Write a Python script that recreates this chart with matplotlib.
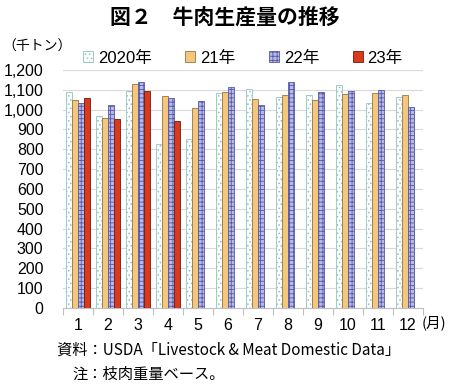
import numpy as np
import matplotlib
matplotlib.use("Agg")
import matplotlib.pyplot as plt
from matplotlib.ticker import FixedLocator, FuncFormatter

# ── data ──────────────────────────────────────────────────────────────────────
months = [1, 2, 3, 4, 5, 6, 7, 8, 9, 10, 11, 12]
prod_2020 = [1087, 970, 1096, 827, 851, 1083, 1103, 1062, 1072, 1126, 1032, 1061]
prod_2021 = [1049, 960, 1130, 1069, 1007, 1091, 1054, 1072, 1047, 1076, 1083, 1074]
prod_2022 = [1032, 1024, 1140, 1057, 1041, 1116, 1024, 1140, 1088, 1093, 1101, 1014]
prod_2023 = [1057, 952, 1094, 943]
series_labels = ["2020年", "21年", "22年", "23年"]

# ── style ─────────────────────────────────────────────────────────────────────
FONT = ["Liberation Sans", "Noto Sans CJK JP"]
JP = ["Noto Sans CJK JP", "Liberation Sans"]
plt.rcParams["font.family"] = FONT
plt.rcParams["hatch.linewidth"] = 0.6

STYLES = [
    dict(color="white", edgecolor="#8fc4c0", hatch="...."),
    dict(color="#f4c77e", edgecolor="#9a7440", hatch=None),
    dict(color="#b8bae4", edgecolor="#5558a8", hatch="++++"),
    dict(color="#d9391c", edgecolor="#6e1a0c", hatch=None),
]

fig = plt.figure(figsize=(4.5, 3.84), dpi=100)
ax = fig.add_axes([0.14, 0.198, 0.80, 0.62])

x = np.arange(len(months))
w = 0.2
all_series = [prod_2020, prod_2021, prod_2022, prod_2023]
handles = []
for k, (vals, st) in enumerate(zip(all_series, STYLES)):
    xs = x[:len(vals)] + (k - 1.5) * w
    b = ax.bar(xs, vals, width=w, color=st["color"], edgecolor=st["edgecolor"],
               hatch=st["hatch"], linewidth=0.6, zorder=3, label=series_labels[k])
    handles.append(b)

ax.set_xlim(-0.5, len(months) - 0.5)
ax.set_ylim(0, 1200)
ax.set_yticks(np.arange(0, 1201, 100))
ax.yaxis.set_major_formatter(FuncFormatter(lambda v, p: f"{int(v):,}"))
ax.grid(axis="y", color="#d9d9d9", lw=0.8, zorder=0)
ax.set_xticks(x)
ax.set_xticklabels([str(m) for m in months])
ax.xaxis.set_minor_locator(FixedLocator(np.arange(-0.5, len(months), 1.0)))
ax.tick_params(axis="x", which="major", length=0, pad=7, labelsize=11.5)
ax.tick_params(axis="x", which="minor", length=5, color="#bfbfbf", width=0.8)
ax.tick_params(axis="y", length=0, pad=14, labelsize=11.5)
for s in ["top", "right", "left"]:
    ax.spines[s].set_visible(False)
ax.spines["bottom"].set_color("#bfbfbf")
ax.spines["bottom"].set_linewidth(0.8)

fig.legend(handles=handles, loc="center", bbox_to_anchor=(0.54, 0.849),
           ncol=4, frameon=False, fontsize=12, handlelength=0.6,
           handleheight=0.6, handletextpad=0.3, columnspacing=2.0)

fig.text(0.5, 0.955, "図２　牛肉生産量の推移", ha="center", va="center",
         fontsize=15, fontweight="bold", family=JP)
fig.text(0.005, 0.878, "（千トン）", ha="left", va="center", fontsize=10, family=JP)
fig.text(0.937, 0.159, "(月)", ha="left", va="center", fontsize=10.5, family=JP)
fig.text(0.127, 0.088, "資料：USDA「Livestock & Meat Domestic Data」", ha="left",
         va="center", fontsize=11, family=JP)
fig.text(0.162, 0.025, "注：枝肉重量ベース。", ha="left", va="center",
         fontsize=11, family=JP)

fig.savefig("out.png", dpi=100)
